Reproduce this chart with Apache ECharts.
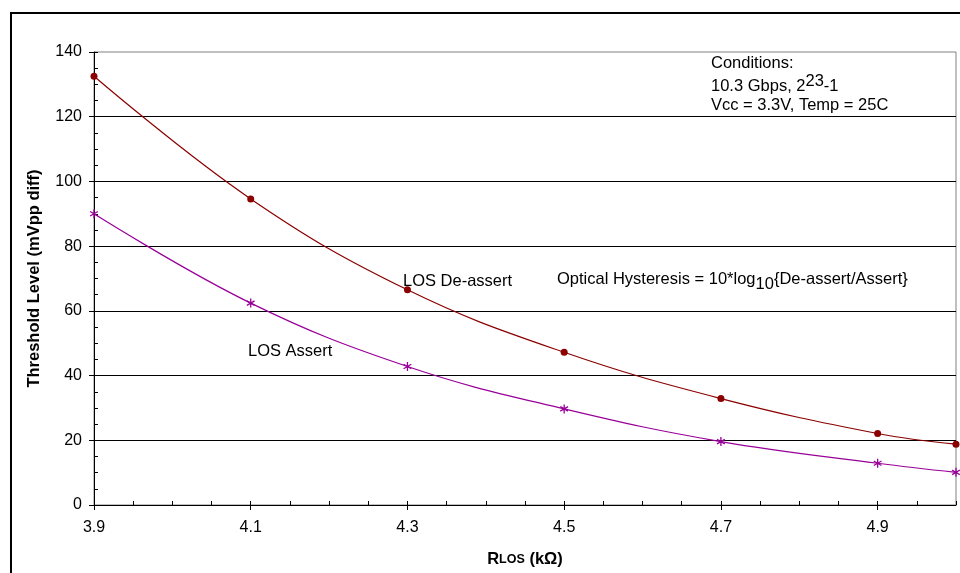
<!DOCTYPE html>
<html>
<head>
    <meta charset="utf-8" />
    <script src="https://cdn.jsdelivr.net/npm/echarts@6/dist/echarts.min.js"></script>
</head>
<body style="margin:0;background:#fff;">
    <div id="main" style="width: 960px;height: 573px;"></div>

    <script type="text/javascript">
        // values
        var rlos = [3.9, 4.1, 4.3, 4.5, 4.7, 4.9, 5.0];
        var deassert = [132.5, 94.6, 66.5, 47.2, 32.9, 22.1, 18.8];
        var assert = [90.0, 62.4, 42.8, 29.7, 19.6, 12.9, 10.1];
        var xTickLabels = [3.9, 4.1, 4.3, 4.5, 4.7, 4.9];

        var FONT = 'Liberation Sans, Arial, sans-serif';
        var FS = 16.5;
        var RED = '#8b0000';
        var PURPLE = '#990099';

        function pairs(xs, ys) {
            return xs.map(function (x, i) { return [x, ys[i]]; });
        }

        var chartDom = document.getElementById('main');
        var myChart = echarts.init(chartDom);
        var option;

        option = {
            animation: false,
            backgroundColor: '#fff',
            grid: {
                left: 94, right: 4, top: 52, bottom: 64,
                show: true, borderColor: '#808080', borderWidth: 1
            },
            xAxis: [
                {
                    type: 'value', min: 3.9, max: 5.0, position: 'bottom',
                    name: '{r|R}{s|LOS}{r| (kΩ)}',
                    nameLocation: 'middle', nameGap: 46,
                    nameTextStyle: {
                        rich: {
                            r: { fontFamily: FONT, fontSize: FS, fontWeight: 'bold', color: '#000' },
                            s: { fontFamily: FONT, fontSize: 12.5, fontWeight: 'bold', color: '#000' }
                        }
                    },
                    axisLine: { show: true, lineStyle: { color: '#000', width: 1 } },
                    axisTick: { show: true, customValues: xTickLabels, length: 5, lineStyle: { color: '#000' } },
                    axisLabel: {
                        customValues: xTickLabels, margin: 15,
                        fontFamily: FONT, fontSize: 16, color: '#000',
                        formatter: function (v) { return v.toFixed(1); }
                    },
                    splitLine: { show: false }
                },
                {
                    type: 'value', min: 3.9, max: 5.0, interval: 0.05, position: 'bottom',
                    axisLine: { show: false },
                    axisTick: { show: true, inside: true, length: 4, lineStyle: { color: '#000' } },
                    axisLabel: { show: false },
                    splitLine: { show: false }
                }
            ],
            yAxis: [
                {
                    type: 'value', min: 0, max: 140, interval: 20,
                    name: 'Threshold Level (mVpp diff)',
                    nameLocation: 'middle', nameGap: 51,
                    nameTextStyle: { fontFamily: FONT, fontSize: FS, fontWeight: 'bold', color: '#000' },
                    axisLine: { show: true, lineStyle: { color: '#000', width: 1 } },
                    axisTick: { show: true, length: 5, lineStyle: { color: '#000' } },
                    axisLabel: { margin: 12, fontFamily: FONT, fontSize: 16, color: '#000' },
                    splitLine: { show: true, showMinLine: false, showMaxLine: false, lineStyle: { color: '#000', width: 1 } }
                },
                {
                    type: 'value', min: 0, max: 140, interval: 5, position: 'left',
                    axisLine: { show: false },
                    axisTick: { show: true, inside: true, length: 4, lineStyle: { color: '#000' } },
                    axisLabel: { show: false },
                    splitLine: { show: false }
                }
            ],
            graphic: [
                {
                    type: 'rect', silent: true, z: 100,
                    shape: { x: 11, y: 13, width: 2000, height: 2000 },
                    style: { fill: 'none', stroke: '#000', lineWidth: 2 }
                },
                {
                    type: 'text', left: 711, top: 55,
                    style: { text: 'Conditions:', font: FS + 'px ' + FONT, fill: '#000' }
                },
                {
                    type: 'text', left: 711, top: 73,
                    style: {
                        text: '{m|10.3 Gbps, 2}{sup|23}{m|-1}',
                        font: FS + 'px ' + FONT,
                        fill: '#000',
                        rich: {
                            m: { fontFamily: FONT, fontSize: FS, lineHeight: 27, color: '#000' },
                            sup: { fontFamily: FONT, fontSize: FS, lineHeight: 16, verticalAlign: 'top', color: '#000' }
                        }
                    }
                },
                {
                    type: 'text', left: 711, top: 97,
                    style: { text: 'Vcc = 3.3V, Temp = 25C', font: FS + 'px ' + FONT, fill: '#000' }
                },
                {
                    type: 'text', left: 403, top: 273,
                    style: { text: 'LOS De-assert', font: FS + 'px ' + FONT, fill: '#000' }
                },
                {
                    type: 'text', left: 557, top: 266,
                    style: {
                        text: '{m|Optical Hysteresis = 10*log}{sub|10}{m|{De-assert/Assert}{m|\u007d}',
                        font: FS + 'px ' + FONT,
                        lineHeight: 27,
                        fill: '#000',
                        rich: {
                            m: { fontFamily: FONT, fontSize: FS, lineHeight: 27, color: '#000' },
                            sub: { fontFamily: FONT, fontSize: FS, lineHeight: 16, verticalAlign: 'bottom', color: '#000' }
                        }
                    }
                },
                {
                    type: 'text', left: 248, top: 343,
                    style: { text: 'LOS Assert', font: FS + 'px ' + FONT, fill: '#000' }
                }
            ],
            series: [
                {
                    name: 'LOS De-assert',
                    type: 'line',
                    xAxisIndex: 0, yAxisIndex: 0,
                    data: pairs(rlos, deassert),
                    smooth: 0.4,
                    symbol: 'circle',
                    symbolSize: 7,
                    lineStyle: { color: RED, width: 1.2 },
                    itemStyle: { color: RED },
                    z: 5
                },
                {
                    name: 'LOS Assert',
                    type: 'line',
                    xAxisIndex: 0, yAxisIndex: 0,
                    data: pairs(rlos, assert),
                    smooth: 0.4,
                    symbol: 'path://M5,0L5,10M0.7,2.5L9.3,7.5M0.7,7.5L9.3,2.5',
                    symbolSize: 9,
                    symbolKeepAspect: true,
                    lineStyle: { color: PURPLE, width: 1.2 },
                    itemStyle: { color: PURPLE, borderColor: PURPLE, borderWidth: 1.3 },
                    z: 5
                }
            ]
        };

        option && myChart.setOption(option);
    </script>
</body>
</html>
